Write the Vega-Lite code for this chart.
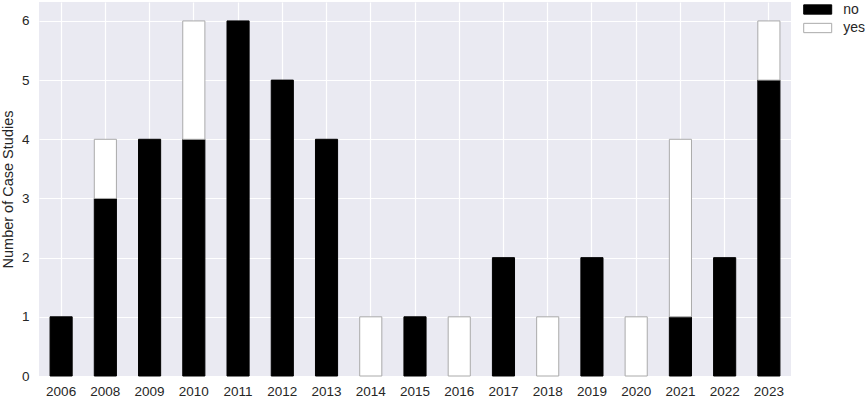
{
  "$schema": "https://vega.github.io/schema/vega-lite/v6.json",
  "autosize": {"type": "none"},
  "padding": {"left": 39, "top": 2, "right": 74, "bottom": 24},
  "width": 752,
  "height": 374,
  "background": "white",
  "config": {
    "view": {"fill": "#EAEAF2", "stroke": null},
    "font": "Liberation Sans",
    "axis": {"labelFont": "Liberation Sans", "titleFont": "Liberation Sans", "labelColor": "#262626", "titleColor": "#262626", "labelFontSize": 13.5, "titleFontSize": 14.5, "titleFontWeight": "normal", "domain": false, "ticks": false, "gridColor": "white", "gridWidth": 1.2, "gridOpacity": 1}
  },
  "data": {"values": [
    {"year": "2006", "status": "no", "count": 1},
    {"year": "2008", "status": "no", "count": 3},
    {"year": "2008", "status": "yes", "count": 1},
    {"year": "2009", "status": "no", "count": 4},
    {"year": "2010", "status": "no", "count": 4},
    {"year": "2010", "status": "yes", "count": 2},
    {"year": "2011", "status": "no", "count": 6},
    {"year": "2012", "status": "no", "count": 5},
    {"year": "2013", "status": "no", "count": 4},
    {"year": "2014", "status": "yes", "count": 1},
    {"year": "2015", "status": "no", "count": 1},
    {"year": "2016", "status": "yes", "count": 1},
    {"year": "2017", "status": "no", "count": 2},
    {"year": "2018", "status": "yes", "count": 1},
    {"year": "2019", "status": "no", "count": 2},
    {"year": "2020", "status": "yes", "count": 1},
    {"year": "2021", "status": "no", "count": 1},
    {"year": "2021", "status": "yes", "count": 3},
    {"year": "2022", "status": "no", "count": 2},
    {"year": "2023", "status": "no", "count": 5},
    {"year": "2023", "status": "yes", "count": 1}
  ]},
  "mark": {"type": "bar", "strokeWidth": 1},
  "encoding": {
    "x": {"field": "year", "type": "ordinal", "sort": null,
      "scale": {"paddingInner": 0.5, "paddingOuter": 0.25},
      "axis": {"title": null, "labelAngle": 0, "bandPosition": 0.5, "labelPadding": 8, "grid": true}},
    "y": {"field": "count", "type": "quantitative", "stack": "zero",
      "scale": {"domain": [0, 6.32], "nice": false},
      "axis": {"title": "Number of Case Studies", "values": [0,1,2,3,4,5,6], "format": "d", "labelPadding": 10, "titlePadding": 6}},
    "order": {"field": "status", "sort": "ascending"},
    "fill": {"field": "status", "type": "nominal",
      "scale": {"domain": ["no", "yes"], "range": ["black", "white"]},
      "legend": {"title": null, "orient": "none", "legendX": 768.7, "legendY": -2.5, "symbolType": "M-1.5,-0.5H1.5V0.5H-1.5Z", "symbolSize": 348, "symbolStrokeColor": "#aaaaaa", "symbolStrokeWidth": 1, "labelFontSize": 14, "labelColor": "#262626", "labelFont": "Liberation Sans", "rowPadding": 1.5, "labelOffset": 15.6, "symbolOpacity": 1}},
    "stroke": {"field": "status", "type": "nominal",
      "scale": {"domain": ["no", "yes"], "range": ["black", "#aaaaaa"]},
      "legend": null}
  }
}
